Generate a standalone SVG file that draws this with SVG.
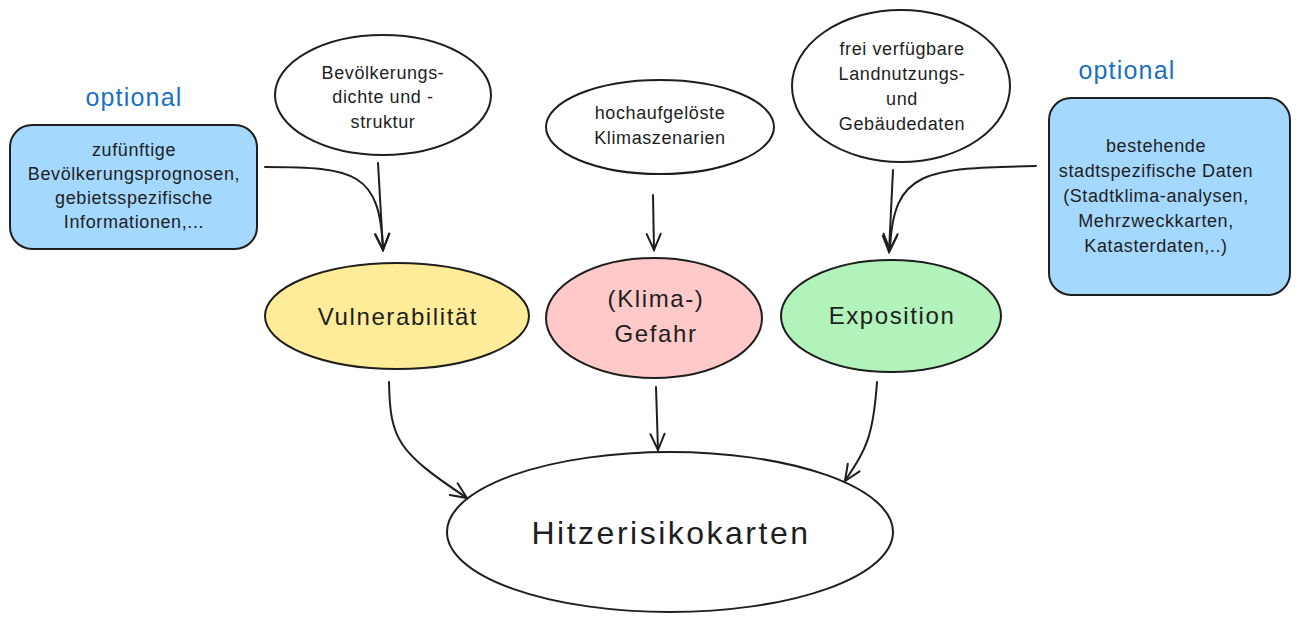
<svg xmlns="http://www.w3.org/2000/svg" width="1302" height="618" viewBox="0 0 1302 618">
<defs>
<style>
.n{stroke:#1e1e1e;stroke-width:2;}
.t{font-family:"Liberation Sans",Arial,sans-serif;fill:#1e1e1e;text-anchor:middle;}
.s{font-size:18px;letter-spacing:0.6px;}
.m{font-size:24px;letter-spacing:1.6px;}
.l{font-size:32px;letter-spacing:2.5px;}
.o{font-family:"Liberation Sans",Arial,sans-serif;fill:#1971c2;font-size:25px;letter-spacing:1.2px;text-anchor:middle;}
.c{fill:none;stroke:#1e1e1e;stroke-width:2;stroke-linecap:round;}
</style>
<marker id="ah" viewBox="0 0 20 20" refX="18" refY="10" markerWidth="20" markerHeight="20" markerUnits="userSpaceOnUse" orient="auto">
<path d="M2,3 L18,10 L2,17" fill="none" stroke="#1e1e1e" stroke-width="2" stroke-linecap="round"/>
</marker>
</defs>
<rect width="1302" height="618" fill="#ffffff"/>
<g id="opt-left"><text class="o" x="134" y="106">optional</text></g>
<g id="box-left">
<rect class="n" x="10" y="125" width="247" height="124" rx="22" fill="#a5d8ff"/>
<text class="t s" x="134" y="156">zufünftige</text>
<text class="t s" x="134" y="180">Bevölkerungsprognosen,</text>
<text class="t s" x="134" y="204">gebietsspezifische</text>
<text class="t s" x="134" y="228">Informationen,...</text>
</g>
<g id="bev">
<ellipse class="n" cx="383" cy="95" rx="108" ry="60" fill="#ffffff"/>
<text class="t s" x="383" y="79">Bevölkerungs-</text>
<text class="t s" x="383" y="103">dichte und -</text>
<text class="t s" x="383" y="128">struktur</text>
</g>
<g id="klimasz">
<ellipse class="n" cx="660" cy="127" rx="114" ry="47" fill="#ffffff"/>
<text class="t s" x="660" y="119">hochaufgelöste</text>
<text class="t s" x="660" y="144">Klimaszenarien</text>
</g>
<g id="frei">
<ellipse class="n" cx="901" cy="86" rx="109" ry="76" fill="#ffffff"/>
<text class="t s" x="902" y="55">frei verfügbare</text>
<text class="t s" x="902" y="80">Landnutzungs-</text>
<text class="t s" x="902" y="105">und</text>
<text class="t s" x="902" y="130">Gebäudedaten</text>
</g>
<g id="opt-right"><text class="o" x="1127" y="79">optional</text></g>
<g id="box-right">
<rect class="n" x="1049" y="98" width="241" height="197" rx="22" fill="#a5d8ff"/>
<text class="t s" x="1156" y="152">bestehende</text>
<text class="t s" x="1156" y="177">stadtspezifische Daten</text>
<text class="t s" x="1156" y="202">(Stadtklima-analysen,</text>
<text class="t s" x="1156" y="227">Mehrzweckkarten,</text>
<text class="t s" x="1156" y="252">Katasterdaten,..)</text>
</g>
<g id="vuln">
<ellipse class="n" cx="397" cy="316" rx="132" ry="53" fill="#ffec99"/>
<text class="t m" x="398" y="325">Vulnerabilität</text>
</g>
<g id="gefahr">
<ellipse class="n" cx="654" cy="318" rx="108" ry="60" fill="#ffc9c9"/>
<text class="t m" x="656" y="307">(Klima-)</text>
<text class="t m" x="656" y="342">Gefahr</text>
</g>
<g id="expo">
<ellipse class="n" cx="891" cy="316" rx="110" ry="56" fill="#b2f2bb"/>
<text class="t m" x="892" y="324">Exposition</text>
</g>
<g id="hitze">
<ellipse class="n" cx="670" cy="532" rx="223" ry="80" fill="#ffffff"/>
<text class="t l" x="671" y="544">Hitzerisikokarten</text>
</g>
<g id="connectors">
<path class="c" d="M265,167 C355,167 380,172 383,250" marker-end="url(#ah)"/>
<path class="c" d="M378,163 L383,250" marker-end="url(#ah)"/>
<path class="c" d="M653,195 L654,250" marker-end="url(#ah)"/>
<path class="c" d="M893,170 L889,252" marker-end="url(#ah)"/>
<path class="c" d="M1036,166 C925,168 893,170 890,250" marker-end="url(#ah)"/>
<path class="c" d="M389,382 C390,440 398,452 467,498" marker-end="url(#ah)"/>
<path class="c" d="M656,387 L658,450" marker-end="url(#ah)"/>
<path class="c" d="M877,382 C873,440 865,450 845,481" marker-end="url(#ah)"/>
</g>
</svg>
